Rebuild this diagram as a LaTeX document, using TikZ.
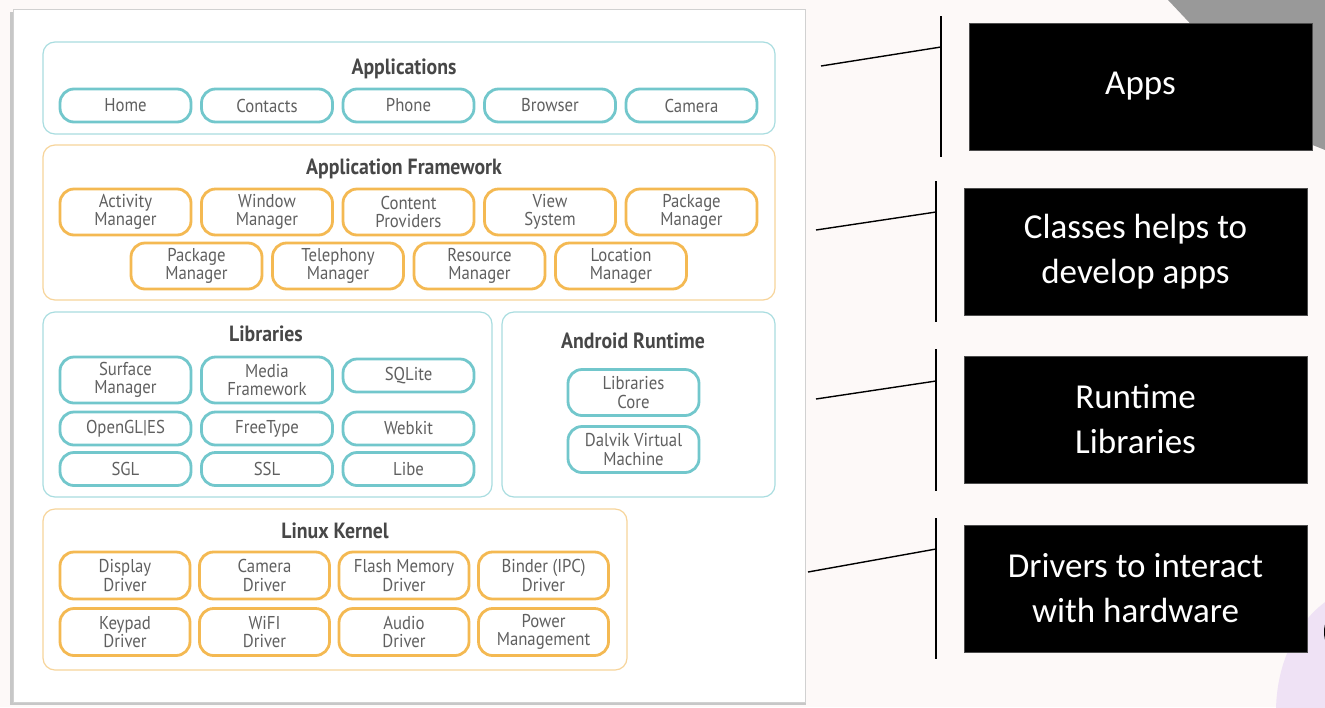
\documentclass[tikz,border=0pt]{standalone}
\usepackage{fontspec}
\usepackage{tikz}
\newfontfamily\pillfont[FakeStretch=0.9]{PT Sans}
\newfontfamily\notefont{Carlito}
\definecolor{tealline}{HTML}{72C7CC}
\definecolor{teallight}{HTML}{A9DDE0}
\definecolor{orangeline}{HTML}{F4B952}
\definecolor{orangelight}{HTML}{F7D49A}
\definecolor{txtgray}{HTML}{606060}
\definecolor{bgtone}{HTML}{FDF9F8}
\definecolor{blobtone}{HTML}{EFE2F5}
\tikzstyle{tpill}=[rectangle,rounded corners=7pt,line width=1.4pt,draw=tealline,fill=white,
minimum width=65.5pt,minimum height=16.5pt,inner sep=0pt,align=center,text=txtgray,
font=\pillfont\fontsize{9.3}{9.3}\selectfont]
\tikzstyle{tpill2}=[tpill,minimum height=23pt]
\tikzstyle{opill}=[tpill,draw=orangeline]
\tikzstyle{opill2}=[opill,minimum height=23pt]
\tikzstyle{kpill}=[opill,minimum width=65pt,minimum height=23.5pt]
\tikzstyle{tlayer}=[rounded corners=6pt,line width=0.6pt,draw=teallight]
\tikzstyle{olayer}=[tlayer,draw=orangelight]
\tikzstyle{title}=[text=black!72,font=\pillfont\bfseries\fontsize{11}{13}\selectfont]
\tikzstyle{note}=[rectangle,fill=black,draw=black!70,text=white,minimum width=171.5pt,
minimum height=63.5pt,align=center,font=\notefont\fontsize{17.5}{22.5}\selectfont]
\usetikzlibrary{positioning}

\begin{document}
\begin{tikzpicture}[x=0.5pt,y=-0.5pt,node distance=70.75pt]
            % BACKGROUND

            \fill[bgtone] (0,0) rectangle (1325,707);
            \fill[black!40] (1168,0) -- (1325,0) -- (1325,150) -- (1300,140) -- cycle;
            \begin{scope}
            \clip (0,0) rectangle (1325,707);
            \fill[blobtone] (1372,712) ellipse [x radius=48pt,y radius=63pt];
            \fill[black] (1332,632) ellipse [x radius=4pt,y radius=8pt];
            \end{scope}
            \fill[black!22] (10,12) rectangle (806,705);
            \filldraw[fill=white,draw=black!18] (13,9) rectangle (805,702);

            % APPLICATIONS PART

            \draw[tlayer] (43,42) rectangle (775,134);
            \node[title] (tapps) at (404,69) {Applications};
            \node[tpill] (home) at (125.5,105.5) {Home};
            \node[tpill, right of=home] (contacts) {Contacts};
            \node[tpill, right of=contacts] (phone) {Phone};
            \node[tpill, right of=phone] (browser) {Browser};
            \node[tpill, right of=browser] (camera) {Camera};

            % FRAMEWORK PART

            \draw[olayer] (43,145) rectangle (775,300);
            \node[title] (tfw) at (404,169) {Application Framework};
            \node[opill2] (actm) at (125.5,212) {Activity\\Manager};
            \node[opill2, right of=actm] (winm) {Window\\Manager};
            \node[opill2, right of=winm] (contp) {Content\\Providers};
            \node[opill2, right of=contp] (views) {View\\System};
            \node[opill2, right of=views] (pkgm) {Package\\Manager};
            \node[opill2] (pkgm2) at (196.5,266) {Package\\Manager};
            \node[opill2, right of=pkgm2] (telm) {Telephony\\Manager};
            \node[opill2, right of=telm] (resm) {Resource\\Manager};
            \node[opill2, right of=resm] (locm) {Location\\Manager};

            % LIBRARIES PART

            \draw[tlayer] (43,312) rectangle (492,497);
            \node[title] (tlibs) at (266,334) {Libraries};
            \node[tpill2] (surf) at (125.5,380) {Surface\\Manager};
            \node[tpill2, right of=surf] (media) {Media\\Framework};
            \node[tpill] (sqlite) at (408.5,375.5) {SQLite};
            \node[tpill] (opengl) at (125.5,428.5) {OpenGL|ES};
            \node[tpill, right of=opengl] (freetype) {FreeType};
            \node[tpill, right of=freetype] (webkit) {Webkit};
            \node[tpill] (sgl) at (125.5,469) {SGL};
            \node[tpill, right of=sgl] (ssl) {SSL};
            \node[tpill, right of=ssl] (libe) {Libe};

            % RUNTIME PART

            \draw[tlayer] (502,312) rectangle (775,497);
            \node[title] (trun) at (633,341) {Android Runtime};
            \node[tpill2] (core) at (633.5,392.5) {Libraries\\Core};
            \node[tpill2] (dalvik) at (633.5,449.5) {Dalvik Virtual\\Machine};

            % KERNEL PART

            \draw[olayer] (43,509) rectangle (627,670);
            \node[title] (tkern) at (335,531) {Linux Kernel};
            \node[kpill] (disp) at (125,575.5) {Display\\Driver};
            \node[kpill, right of=disp,node distance=69.75pt] (camd) {Camera\\Driver};
            \node[kpill, right of=camd,node distance=69.75pt] (flash) {Flash Memory\\Driver};
            \node[kpill, right of=flash,node distance=69.75pt] (binder) {Binder (IPC)\\Driver};
            \node[kpill] (keyp) at (125,632) {Keypad\\Driver};
            \node[kpill, right of=keyp,node distance=69.75pt] (wifi) {WiFI\\Driver};
            \node[kpill, right of=wifi,node distance=69.75pt] (audio) {Audio\\Driver};
            \node[kpill, right of=audio,node distance=69.75pt] (power) {Power\\Management};

            % NOTES PART

            \node[note] (napps) at (1140.5,86.5) {Apps};
            \node[note] (nclass) at (1135.5,251.5) {Classes helps to\\develop apps};
            \node[note] (nrun) at (1135.5,419.5) {Runtime\\Libraries};
            \node[note] (ndrv) at (1135.5,588.5) {Drivers to interact\\with hardware};

            % Brackets

            \coordinate (s1) at (821,66);  \coordinate (m1) at (941,47);
            \coordinate (u1) at (941,16);  \coordinate (d1) at (941,157);
            \coordinate (s2) at (816,230); \coordinate (m2) at (936,212);
            \coordinate (u2) at (936,181); \coordinate (d2) at (936,322);
            \coordinate (s3) at (816,399); \coordinate (m3) at (936,381);
            \coordinate (u3) at (936,349); \coordinate (d3) at (936,491);
            \coordinate (s4) at (808,572); \coordinate (m4) at (936,549);
            \coordinate (u4) at (936,518); \coordinate (d4) at (936,659);

            \draw[line width=0.7pt] (u1) -- (d1);
            \draw[line width=0.7pt] (s1) -- (m1);
            \draw[line width=0.7pt] (u2) -- (d2);
            \draw[line width=0.7pt] (s2) -- (m2);
            \draw[line width=0.7pt] (u3) -- (d3);
            \draw[line width=0.7pt] (s3) -- (m3);
            \draw[line width=0.7pt] (u4) -- (d4);
            \draw[line width=0.7pt] (s4) -- (m4);

\end{tikzpicture}
\end{document}
